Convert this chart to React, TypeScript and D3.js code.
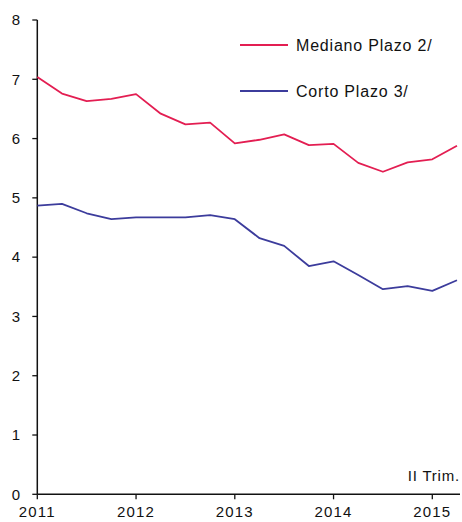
import React, { useEffect, useRef } from "react";
import * as d3 from "d3";

const quarters: number[] = Array.from({ length: 18 }, (_, i) => i); // 2011 Q1 .. 2015 Q2
const mediano: number[] = [7.04, 6.76, 6.63, 6.67, 6.75, 6.42, 6.24, 6.27, 5.92, 5.98, 6.07, 5.89, 5.91, 5.59, 5.44, 5.6, 5.65, 5.88];
const corto: number[] = [4.87, 4.9, 4.74, 4.64, 4.67, 4.67, 4.67, 4.71, 4.64, 4.32, 4.19, 3.85, 3.93, 3.7, 3.46, 3.51, 3.43, 3.61];
const yearLabels: string[] = ["2011", "2012", "2013", "2014", "2015"];
const yTicks: number[] = [0, 1, 2, 3, 4, 5, 6, 7, 8];
const seriesNames: string[] = ["Mediano Plazo 2/", "Corto Plazo 3/"];
const seriesColors: string[] = ["#e31e52", "#3c3c9c"];
const noteLabel = "II Trim.";

export default function App() {
  const ref = useRef<SVGSVGElement>(null);
  useEffect(() => {
    const svg = d3.select(ref.current);
    svg.selectAll("*").remove();
    const font = "'Liberation Sans', Arial, sans-serif";
    const x = d3.scaleLinear().domain([0, 16]).range([37.3, 432.3]);
    const y = d3.scaleLinear().domain([0, 8]).range([494.3, 20]);

    const g = svg.append("g");

    // y axis
    g.append("line").attr("x1", x(0)).attr("x2", x(0)).attr("y1", y(8)).attr("y2", y(0))
      .attr("stroke", "#111").attr("stroke-width", 1.5);
    yTicks.forEach((t) => {
      g.append("line").attr("x1", x(0) - 5).attr("x2", x(0)).attr("y1", y(t)).attr("y2", y(t))
        .attr("stroke", "#111").attr("stroke-width", 1.3);
      g.append("text").attr("x", 20).attr("y", y(t)).attr("dy", "0.35em")
        .attr("text-anchor", "end").attr("font-family", font).attr("font-size", 15)
        .attr("fill", "#111").text(String(t));
    });

    // x axis
    g.append("line").attr("x1", x(0)).attr("x2", 460).attr("y1", y(0)).attr("y2", y(0))
      .attr("stroke", "#111").attr("stroke-width", 1.5);
    yearLabels.forEach((lab, i) => {
      const xx = x(i * 4);
      g.append("line").attr("x1", xx).attr("x2", xx).attr("y1", y(0)).attr("y2", y(0) + 5)
        .attr("stroke", "#111").attr("stroke-width", 1.3);
      g.append("text").attr("x", xx).attr("y", 517).attr("text-anchor", "middle")
        .attr("font-family", font).attr("font-size", 15).attr("letter-spacing", 1.2)
        .attr("fill", "#111").text(lab);
    });

    g.append("text").attr("x", 460).attr("y", 481).attr("text-anchor", "end")
      .attr("font-family", font).attr("font-size", 15).attr("letter-spacing", 0.8)
      .attr("fill", "#111").text(noteLabel);

    const line = d3.line<number>().x((_, i) => x(quarters[i])).y((d) => y(d));
    [mediano, corto].forEach((data, si) => {
      g.append("path").datum(data).attr("d", line).attr("fill", "none")
        .attr("stroke", seriesColors[si]).attr("stroke-width", 1.8)
        .attr("stroke-linejoin", "round");
    });

    // legend
    const legY = [45, 91];
    seriesNames.forEach((name, i) => {
      g.append("line").attr("x1", 240).attr("x2", 288).attr("y1", legY[i]).attr("y2", legY[i])
        .attr("stroke", seriesColors[i]).attr("stroke-width", 1.8);
      g.append("text").attr("x", 296).attr("y", legY[i]).attr("dy", "0.35em")
        .attr("font-family", font).attr("font-size", 16).attr("letter-spacing", 0.8)
        .attr("fill", "#111").text(name);
    });
  }, []);
  return (
    <svg ref={ref} width={462} height={522}
      style={{ position: "absolute", left: 0, top: 0, background: "#fff" }} />
  );
}
